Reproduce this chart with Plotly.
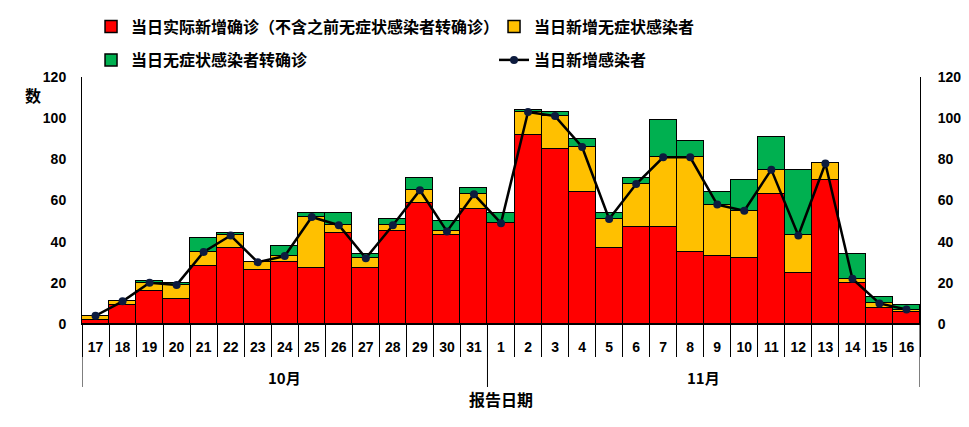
import plotly.graph_objects as go

months = ["10月"] * 15 + ["11月"] * 16
days = [str(d) for d in range(17, 32)] + [str(d) for d in range(1, 17)]

confirmed = [2, 9, 16, 12, 28, 37, 26, 30, 27, 44, 27, 45, 59, 43, 56,
             49, 92, 85, 64, 37, 47, 47, 35, 33, 32, 63, 25, 70, 20, 8, 6]
asymptomatic = [2, 2, 4, 7, 7, 6, 4, 3, 25, 4, 5, 3, 6, 2, 7,
                0, 11, 16, 22, 14, 21, 34, 46, 25, 23, 12, 18, 8, 2, 2, 1]
converted = [0, 0, 1, 1, 7, 1, 0, 5, 2, 6, 2, 3, 6, 5, 3,
             5, 1, 2, 4, 3, 3, 18, 8, 6, 15, 16, 32, 0, 12, 3, 2]
new_infected = [4, 11, 20, 19, 35, 43, 30, 33, 52, 48, 32, 48, 65, 45, 63,
                49, 103, 101, 86, 51, 68, 81, 81, 58, 55, 75, 43, 78, 22, 10, 7]

yticks = [0, 20, 40, 60, 80, 100, 120]

cjk = "Noto Sans CJK SC"
num_font = dict(family="Liberation Sans", size=14, color="black", weight="bold")

# page has an 8px body margin, so the figure is sized/offset to compensate
W, H = 961, 419

fig = go.Figure()
bar_line = dict(color="black", width=1.5)
fig.add_trace(go.Bar(x=days, y=confirmed, name="当日实际新增确诊（不含之前无症状感染者转确诊）",
                     marker=dict(color="#FF0000", line=bar_line), legend="legend"))
fig.add_trace(go.Bar(x=days, y=asymptomatic, name="当日新增无症状感染者",
                     marker=dict(color="#FFC000", line=bar_line), legend="legend"))
fig.add_trace(go.Bar(x=days, y=converted, name="当日无症状感染者转确诊",
                     marker=dict(color="#00B050", line=bar_line), legend="legend2"))
fig.add_trace(go.Scatter(x=days, y=new_infected, name="当日新增感染者", mode="lines+markers",
                         line=dict(color="black", width=2.5),
                         marker=dict(color="#0D1B3E", size=8),
                         legend="legend2", yaxis="y2"))

legend_common = dict(orientation="h", xanchor="left", yanchor="middle",
                     xref="container", yref="container", traceorder="normal",
                     font=dict(family=cjk, size=16, color="black", weight="bold"),
                     entrywidth=358, entrywidthmode="pixels",
                     bgcolor="rgba(0,0,0,0)", itemclick=False)

# month group boundaries and centres derived from the month list
bounds = [-0.5]
for i in range(1, len(months)):
    if months[i] != months[i - 1]:
        bounds.append(i - 0.5)
bounds.append(len(months) - 0.5)

shapes = []
annotations = []
for b in bounds:
    shapes.append(dict(type="line", xref="x", yref="paper", x0=b, x1=b, y0=0, y1=-0.255,
                       line=dict(color="black", width=1)))
ann_common = dict(showarrow=False, xanchor="center", yanchor="middle")
for k in range(len(bounds) - 1):
    annotations.append(dict(text=months[int(bounds[k] + 0.5)], xref="x", yref="paper",
                            x=(bounds[k] + bounds[k + 1]) / 2, y=-0.215,
                            font=dict(family=cjk, size=15, color="black", weight="bold"), **ann_common))
annotations.append(dict(text="报告日期", xref="paper", yref="paper", x=0.5, y=-0.305,
                        font=dict(family=cjk, size=16, color="black", weight="bold"), **ann_common))
annotations.append(dict(text="数", xref="paper", yref="paper", x=-0.059, y=0.927,
                        font=dict(family=cjk, size=16, color="black", weight="bold"), **ann_common))

fig.update_layout(
    width=W, height=H,
    margin=dict(l=74, r=49, t=69, b=103, autoexpand=False),
    paper_bgcolor="white", plot_bgcolor="white",
    barmode="stack", bargap=0,
    showlegend=True,
    legend=dict(x=0.0864, y=0.9554, **legend_common),
    legend2=dict(x=0.0864, y=0.8759, **legend_common),
    xaxis=dict(
        type="category", range=[-0.5, len(days) - 0.5],
        showline=True, linecolor="black", linewidth=1,
        ticks="outside", tickson="boundaries", ticklen=32, tickcolor="black", tickwidth=1,
        tickfont=num_font, tickangle=0, ticklabelstandoff=10,
    ),
    yaxis=dict(
        range=[0, 120], tickvals=yticks, showgrid=False, zeroline=False,
        showline=True, linecolor="black", linewidth=1,
        tickfont=num_font, ticklabelstandoff=12,
    ),
    yaxis2=dict(
        range=[0, 120], tickvals=yticks, showgrid=False, zeroline=False,
        overlaying="y", side="right",
        showline=True, linecolor="black", linewidth=1,
        tickfont=num_font, ticklabelstandoff=14,
    ),
    shapes=shapes,
    annotations=annotations,
)

fig.write_html("out.html")
